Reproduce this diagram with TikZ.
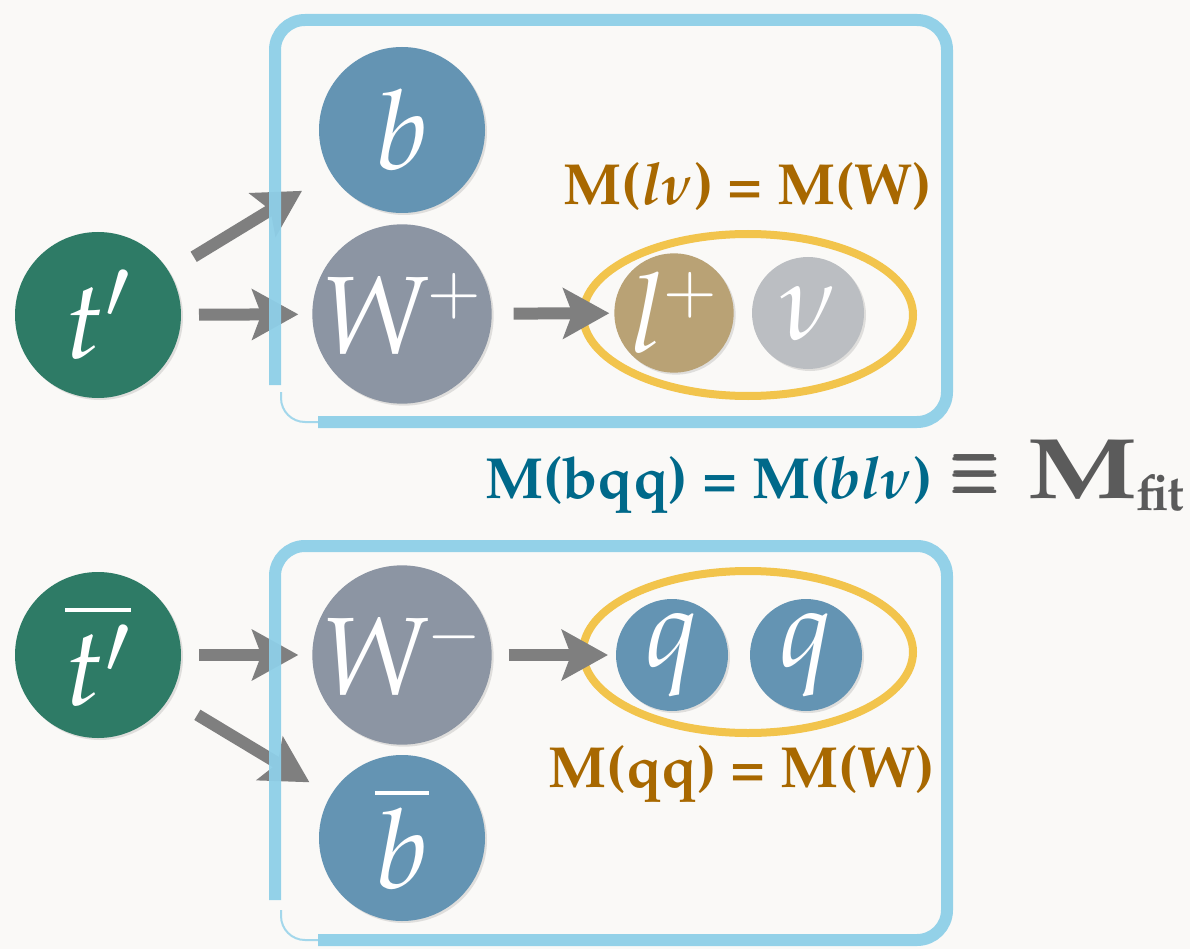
\documentclass[tikz,border=0pt]{standalone}
\usepackage[T1]{fontenc}
\usepackage{mathpazo}
\usepackage{amsmath,amsbsy,graphicx}
\usetikzlibrary{arrows.meta,shapes.geometric,shadows}
\definecolor{bgc}{HTML}{FAF9F7}
\definecolor{tgreen}{HTML}{2E7B66}
\definecolor{qblue}{HTML}{6494B3}
\definecolor{wgray}{HTML}{8C95A3}
\definecolor{ltan}{HTML}{B9A275}
\definecolor{nugray}{HTML}{BBBEC2}
\definecolor{arrowgray}{HTML}{7F7F7F}
\definecolor{boxblue}{HTML}{8ECFE8}
\definecolor{ellyellow}{HTML}{F2C44C}
\definecolor{lblbrown}{HTML}{A86800}
\definecolor{lblblue}{HTML}{00698A}
\definecolor{fitgray}{HTML}{5B5B5B}
\newcommand{\chg}[1]{^{\mkern-1mu\scriptscriptstyle #1}}
\begin{document}
\begin{tikzpicture}[x=1pt,y=-1pt,
  ball/.style={circle, inner sep=0pt, outer sep=0pt, minimum size=166pt, text=white,
    font=\fontsize{110}{112}\selectfont,
    drop shadow={opacity=0.22, shadow xshift=2pt, shadow yshift=-2pt}},
  smallball/.style={ball, minimum size=112pt},
  flow/.style={draw=arrowgray, line width=12pt, -{Stealth[length=46pt, width=50pt, inset=9pt]}},
  framebox/.style={draw=boxblue, line width=12pt, rounded corners=30pt, opacity=0.95},
  framethin/.style={draw=boxblue, line width=2pt, rounded corners=24pt, opacity=0.8},
  ring/.style={ellipse, draw=ellyellow, line width=8pt, inner sep=0pt, minimum width=330pt, minimum height=162pt},
  wlabel/.style={anchor=base, text=lblbrown, font=\fontsize{58}{60}\selectfont\bfseries}
]
\fill[bgc] (0,0) rectangle (1190,949);
\useasboundingbox (0,0) rectangle (1190,949);

% top decay
\node[ball, fill=tgreen] (tp) at (98,315) {$t'$};
\node[ball, fill=qblue] (b) at (402,130) {$b$};
\node[ball, fill=wgray] (wp) at (402,314) {$W\chg{+}$};
\node[smallball, fill=ltan] (lp) at (674,313) {$l\chg{+}$};
\node[smallball, fill=nugray] (nu) at (808,313) {$\nu$};
\node[ring] (e1) at (748,315) {};

\draw[flow, shorten <=29pt, shorten >=34pt] (tp) -- (b);
\draw[flow, shorten <=18pt, shorten >=14pt] (tp) -- (wp);
\draw[flow, shorten <=22pt, shorten >=5pt] (wp) -- (lp);

\draw[framebox] (275,385) -- (275,20) -- (947,20) -- (947,422) -- (318,422);
\draw[framethin] (318,422) -- (281,422) -- (281,392);

\node[wlabel] (l1) at (748,205) {M(\textit{l}{\boldmath$\nu$}) = M(W)};

% middle label
\node[anchor=base west, text=lblblue, font=\fontsize{58}{60}\selectfont\bfseries, inner sep=0pt] (mid) at (485,498)
  {M(bqq) = M(\textit{bl}{\boldmath$\nu$})};
\node[anchor=base, text=fitgray, inner sep=0pt] (eq) at (976,496)
  {\scalebox{0.95}[1.3]{\fontsize{62}{64}\selectfont$\pmb{\equiv}$}};
\node[anchor=base west, text=fitgray, inner sep=0pt] (fit) at (1027,498)
  {\scalebox{1.28}[1]{\fontsize{86}{88}\selectfont\bfseries M}\raisebox{-12pt}{\fontsize{50}{52}\selectfont\bfseries fit}};

% bottom decay
\node[ball, fill=tgreen] (tb) at (98,655) {$\overline{t'}$};
\node[ball, fill=wgray] (wm) at (402,655) {$W\chg{-}$};
\node[ball, fill=qblue] (bb) at (402,838) {$\overline{b}$};
\node[smallball, fill=qblue] (q1) at (672,655) {$q$};
\node[smallball, fill=qblue] (q2) at (806,655) {$q$};
\node[ring] (e2) at (748,652) {};

\draw[flow, shorten <=18pt, shorten >=14pt] (tb) -- (wm);
\draw[flow, shorten <=33pt, shorten >=25pt] (tb) -- (bb);
\draw[flow, shorten <=17pt, shorten >=8pt] (wm) -- (q1);

\draw[framebox] (275,900) -- (275,546) -- (947,546) -- (947,940) -- (318,940);
\draw[framethin] (318,940) -- (281,940) -- (281,910);

\node[wlabel] (l2) at (742,787) {M(qq) = M(W)};
\end{tikzpicture}
\end{document}
